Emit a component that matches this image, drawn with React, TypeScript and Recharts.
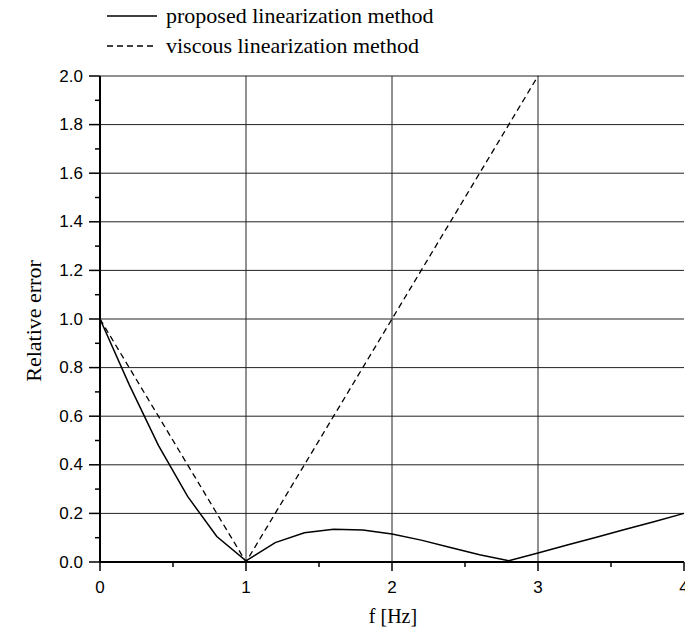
import React from 'react';
import { LineChart, Line, XAxis, YAxis, ReferenceLine } from 'recharts';

const fValues = [0, 0.2, 0.4, 0.6, 0.8, 1.0, 1.2, 1.4, 1.6, 1.8, 2.0, 2.2, 2.4, 2.6, 2.8, 3.0, 3.2, 3.4, 3.6, 3.8, 4.0];
const proposedError = [1.0, 0.73, 0.48, 0.27, 0.105, 0.005, 0.08, 0.12, 0.135, 0.132, 0.115, 0.09, 0.06, 0.03, 0.005, 0.037, 0.07, 0.102, 0.135, 0.167, 0.2];
const viscousError: (number | null)[] = [1.0, 0.8, 0.6, 0.4, 0.2, 0.0, 0.2, 0.4, 0.6, 0.8, 1.0, 1.2, 1.4, 1.6, 1.8, 2.0, null, null, null, null, null];

const xTicks = [0, 0.5, 1, 1.5, 2, 2.5, 3, 3.5, 4];
const yTicks = [0, 0.1, 0.2, 0.3, 0.4, 0.5, 0.6, 0.7, 0.8, 0.9, 1.0, 1.1, 1.2, 1.3, 1.4, 1.5, 1.6, 1.7, 1.8, 1.9, 2.0];
const xGrid = [1, 2, 3];
const yGrid = [0.2, 0.4, 0.6, 0.8, 1.0, 1.2, 1.4, 1.6, 1.8, 2.0];

const seriesNames = ['proposed linearization method', 'viscous linearization method'];

const data = fValues.map((f, i) => ({ f, proposed: proposedError[i], viscous: viscousError[i] }));

const SANS = '"Liberation Sans", Arial, sans-serif';
const SERIF = '"Liberation Serif", "Times New Roman", serif';

const YTick = (props: any) => {
  const { x, y, payload } = props;
  const v = payload.value as number;
  const major = Math.round(v * 10) % 2 === 0;
  return (
    <g>
      <line x1={x - (major ? 11 : 5)} x2={x} y1={y} y2={y} stroke="#000" strokeWidth={1.5} />
      {major && (
        <text x={x - 17} y={y} textAnchor="end" dominantBaseline="central" fontFamily={SANS} fontSize={17} fill="#000">
          {v.toFixed(1)}
        </text>
      )}
    </g>
  );
};

const XTick = (props: any) => {
  const { x, y, payload } = props;
  const v = payload.value as number;
  const major = Math.round(v * 2) % 2 === 0;
  return (
    <g>
      <line x1={x} x2={x} y1={y} y2={y + (major ? 9 : 5)} stroke="#000" strokeWidth={1.5} />
      {major && (
        <text x={x} y={y + 25} textAnchor="middle" dominantBaseline="central" fontFamily={SANS} fontSize={17} fill="#000">
          {String(v)}
        </text>
      )}
    </g>
  );
};

export default function App() {
  return (
    <div style={{ position: 'absolute', left: 0, top: 0, width: 685, height: 635, background: '#fff', overflow: 'hidden' }}>
      <LineChart
        width={685}
        height={635}
        data={data}
        margin={{ top: 76, right: 1, bottom: 33, left: 60 }}
      >
        {yGrid.map((v) => (
          <ReferenceLine key={'y' + v} y={v} stroke="#222" strokeWidth={1} />
        ))}
        {xGrid.map((v) => (
          <ReferenceLine key={'x' + v} x={v} stroke="#222" strokeWidth={1} />
        ))}
        <XAxis
          dataKey="f"
          type="number"
          domain={[0, 4]}
          ticks={xTicks}
          interval={0}
          height={40}
          tickSize={0}
          tickMargin={0}
          tickLine={false}
          tick={<XTick />}
          axisLine={{ stroke: '#000', strokeWidth: 2 }}
        />
        <YAxis
          type="number"
          domain={[0, 2]}
          ticks={yTicks}
          interval={0}
          width={40}
          tickSize={0}
          tickMargin={0}
          tickLine={false}
          tick={<YTick />}
          axisLine={{ stroke: '#000', strokeWidth: 2 }}
        />
        <Line
          type="linear"
          dataKey="proposed"
          stroke="#000"
          strokeWidth={1.5}
          dot={false}
          isAnimationActive={false}
        />
        <Line
          type="linear"
          dataKey="viscous"
          stroke="#000"
          strokeWidth={1.3}
          strokeDasharray="6 4"
          dot={false}
          connectNulls={false}
          isAnimationActive={false}
        />
      </LineChart>
      <div style={{ position: 'absolute', left: 107, top: 0, fontFamily: SERIF, fontSize: 22, color: '#000' }}>
        <div style={{ display: 'flex', alignItems: 'center', height: 30, marginTop: 1 }}>
          <svg width={52} height={10}><line x1={0} x2={50} y1={5} y2={5} stroke="#000" strokeWidth={1.5} /></svg>
          <span style={{ marginLeft: 7, whiteSpace: 'nowrap' }}>{seriesNames[0]}</span>
        </div>
        <div style={{ display: 'flex', alignItems: 'center', height: 30 }}>
          <svg width={52} height={10}><line x1={0} x2={50} y1={5} y2={5} stroke="#000" strokeWidth={1.3} strokeDasharray="6 4" /></svg>
          <span style={{ marginLeft: 7, whiteSpace: 'nowrap' }}>{seriesNames[1]}</span>
        </div>
      </div>
      <div style={{ position: 'absolute', left: 393, top: 616, transform: 'translate(-50%, -50%)', fontFamily: SERIF, fontSize: 20, whiteSpace: 'nowrap' }}>
        f [Hz]
      </div>
      <div style={{ position: 'absolute', left: 34, top: 321, transform: 'translate(-50%, -50%) rotate(-90deg)', fontFamily: SERIF, fontSize: 22, whiteSpace: 'nowrap' }}>
        Relative error
      </div>
    </div>
  );
}
